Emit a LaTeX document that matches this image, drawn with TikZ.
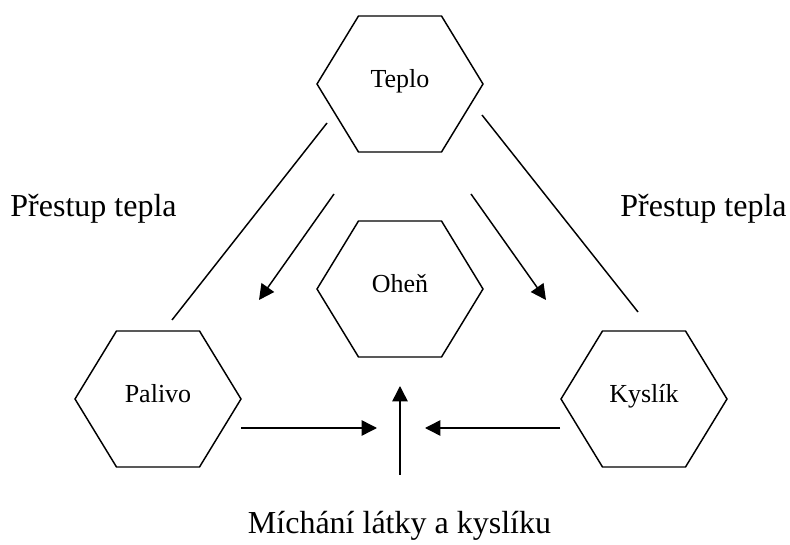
\documentclass[tikz,border=0pt]{standalone}
\usepackage{fontspec}
\setmainfont{Liberation Serif}
\usetikzlibrary{arrows.meta,calc,positioning}

% six-sided outline round a (rectangular, invisible) node
\newcommand{\hexdraw}[1]{%
	\draw (#1.west) -- ($(#1.north west)!0.25!(#1.north east)$) -- ($(#1.north east)!0.25!(#1.north west)$) --
		(#1.east) -- ($(#1.south east)!0.25!(#1.south west)$) -- ($(#1.south west)!0.25!(#1.south east)$) -- cycle;}

\tikzset{
	hexa/.style={minimum width=124.5pt, minimum height=102pt, inner sep=0pt, outer sep=0pt,
		text height=10pt, text depth=5pt, font=\fontsize{19.5}{23}\selectfont},
	caption/.style={inner sep=0pt, anchor=base, font=\fontsize{24}{29}\selectfont}
}

\begin{document}
\begin{tikzpicture}[x=0.75pt, y=-0.75pt, line width=1.1pt, >={Triangle[length=11.5pt,width=11.5pt]}]
		\useasboundingbox (0,0) rectangle (790,545);

		\node[hexa] (teplo) at (400,84) {Teplo};
		\node[hexa] (ohen) at (400,289) {Oheň};
		\node[hexa] (palivo) at (158,399) {Palivo};
		\node[hexa] (kyslik) at (644,399) {Kyslík};
		\hexdraw{teplo} \hexdraw{ohen} \hexdraw{palivo} \hexdraw{kyslik}

		\node[caption] (prestupL) at (93.5,217) {Přestup tepla};
		\node[caption] (prestupR) at (703.5,217) {Přestup tepla};
		\node[caption] (michani) at (399.5,533) {Míchání látky a kyslíku};

		\coordinate (lA) at (327,123); \coordinate (lB) at (172,320);
		\coordinate (rA) at (482,115); \coordinate (rB) at (638,312);
		\draw (lA) -- (lB); \draw (rA) -- (rB);

		\coordinate (aL1) at (334,194); \coordinate (aL2) at (259,300);
		\coordinate (aR1) at (471,194); \coordinate (aR2) at (546,300);
		\draw[->] (aL1) -- (aL2); \draw[->] (aR1) -- (aR2);

		\coordinate (hL1) at (241,428); \coordinate (hL2) at (377,428);
		\coordinate (hR1) at (560,428); \coordinate (hR2) at (425,428);
		\coordinate (v1) at (400,475); \coordinate (v2) at (400,386);
		\draw[->] (hL1) -- (hL2); \draw[->] (hR1) -- (hR2); \draw[->] (v1) -- (v2);
	\end{tikzpicture}
\end{document}
